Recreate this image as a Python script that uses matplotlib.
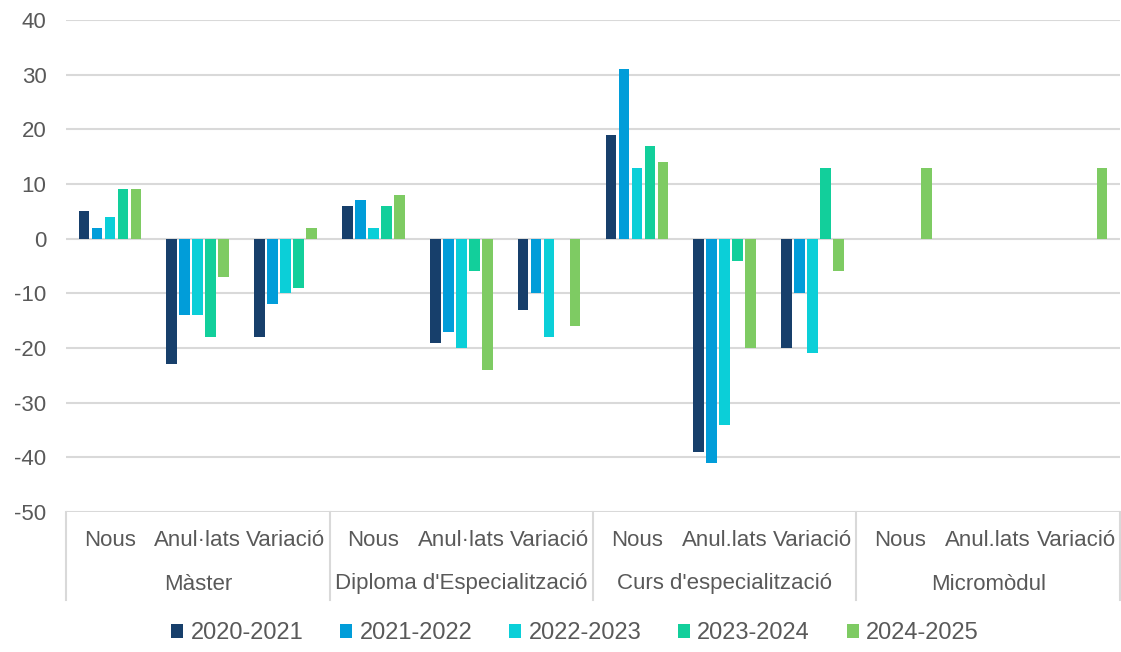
import matplotlib.pyplot as plt
import matplotlib.transforms as mtransforms
import numpy as np

plt.rcParams['font.family'] = ['Liberation Sans', 'DejaVu Sans']
plt.rcParams['axes.unicode_minus'] = False

groups = ["Màster", "Diploma d'Especialització", "Curs d'especialització", "Micromòdul"]
subcats = ["Nous", "Anul·lats", "Variació",
           "Nous", "Anul·lats", "Variació",
           "Nous", "Anul.lats", "Variació",
           "Nous", "Anul.lats", "Variació"]
series = ["2020-2021", "2021-2022", "2022-2023", "2023-2024", "2024-2025"]

v2020 = [5, -23, -18, 6, -19, -13, 19, -39, -20, 0, 0, 0]
v2021 = [2, -14, -12, 7, -17, -10, 31, -41, -10, 0, 0, 0]
v2022 = [4, -14, -10, 2, -20, -18, 13, -34, -21, 0, 0, 0]
v2023 = [9, -18, -9, 6, -6, 0, 17, -4, 13, 0, 0, 0]
v2024 = [9, -7, 2, 8, -24, -16, 14, -20, -6, 13, 0, 13]

colors = ["#173F6B", "#019DD9", "#0BCFD8", "#12CF9B", "#7ECB63"]
text_col = "#595959"
grid_col = "#D9D9D9"

fig = plt.figure(figsize=(11.21, 6.52), dpi=100)
ax = fig.add_axes([66 / 1121, 1 - 512 / 652, (1120 - 66) / 1121, (512 - 20) / 652])

x = np.arange(len(subcats))
slot = 0.148
width = 0.122
for i, (vals, name) in enumerate(zip([v2020, v2021, v2022, v2023, v2024], series)):
    ax.bar(x + (i - 2) * slot, vals, width, color=colors[i], label=name,
           linewidth=0, zorder=3)

ax.set_xlim(-0.5, len(subcats) - 0.5)
ax.set_ylim(-50, 40)
ax.set_yticks(range(-50, 41, 10))
ax.yaxis.grid(True, color=grid_col, linewidth=1.5, zorder=0)
ax.set_axisbelow(True)
ax.set_xticks([])
for s in ax.spines.values():
    s.set_visible(False)
ax.tick_params(axis='y', length=0, pad=14, labelsize=16, labelcolor=text_col)

# category labels and group labels below the plot
trans = mtransforms.blended_transform_factory(ax.transData, ax.transAxes)
h_px = 512 - 20
for i, lab in enumerate(subcats):
    ax.text(i, -(541 - 512) / h_px, lab, transform=trans, ha='center', va='center',
            fontsize=16, color=text_col)
for g, name in enumerate(groups):
    ax.text(3 * g + 1, -(584 - 512) / h_px, name, transform=trans, ha='center', va='center',
            fontsize=16, color=text_col)
for b in range(0, 13, 3):
    ax.plot([b - 0.5, b - 0.5], [0, -(600 - 512) / h_px], transform=trans,
            color=grid_col, linewidth=1.5, clip_on=False)

fig.legend(loc='center', bbox_to_anchor=(575 / 1121, 1 - 633 / 652), ncol=5, frameon=False,
           fontsize=17, labelcolor=text_col, handlelength=0.53, handleheight=0.53,
           handletextpad=0.3, columnspacing=1.55)

fig.savefig("out.png", dpi=100)
